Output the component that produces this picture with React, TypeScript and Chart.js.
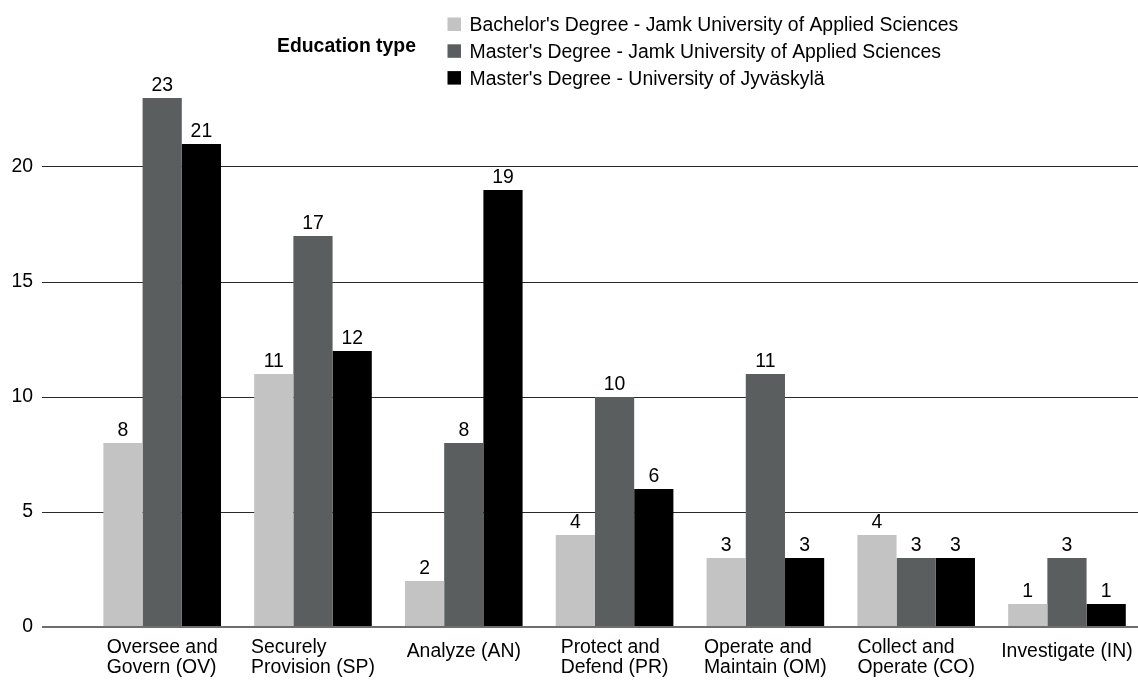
import { useEffect, useRef } from "react";
import { Chart, registerables } from "chart.js";

Chart.register(...registerables);

// Work-role categories (multi-line axis labels)
const categories: string[][] = [
  ["Oversee and", "Govern (OV)"],
  ["Securely", "Provision (SP)"],
  ["Analyze (AN)"],
  ["Protect and", "Defend (PR)"],
  ["Operate and", "Maintain (OM)"],
  ["Collect and", "Operate (CO)"],
  ["Investigate (IN)"],
];

// Counts per education type
const bachelorJamk = [8, 11, 2, 4, 3, 4, 1];
const masterJamk = [23, 17, 8, 10, 11, 3, 3];
const masterJyu = [21, 12, 19, 6, 3, 3, 1];

const seriesLabels = [
  "Bachelor's Degree - Jamk University of Applied Sciences",
  "Master's Degree - Jamk University of Applied Sciences",
  "Master's Degree - University of Jyväskylä",
];
const seriesValues = [bachelorJamk, masterJamk, masterJyu];
const seriesColors = ["#c2c3c2", "#5a5e5f", "#000000"];

const yTicks = [0, 5, 10, 15, 20];
const legendTitle = "Education type";

const FONT = "'Liberation Sans', Arial, Helvetica, sans-serif";
const FONT_SIZE = 19.4;

// Numbers printed above each bar
const valueLabels = {
  id: "valueLabels",
  afterDatasetsDraw(chart: any) {
    const ctx = chart.ctx;
    ctx.save();
    ctx.font = `${FONT_SIZE}px ${FONT}`;
    ctx.fillStyle = "#000";
    ctx.textAlign = "center";
    ctx.textBaseline = "alphabetic";
    chart.data.datasets.forEach((ds: any, d: number) => {
      const meta = chart.getDatasetMeta(d);
      meta.data.forEach((bar: any, i: number) => {
        ctx.fillText(String(ds.data[i].y), bar.x, bar.y - 7);
      });
    });
    ctx.restore();
  },
};

// Category names under the plot, left-aligned within a centred block
const categoryLabels = {
  id: "categoryLabels",
  afterDraw(chart: any) {
    const ctx = chart.ctx;
    const xs = chart.scales.x;
    const bottom = chart.chartArea.bottom;
    ctx.save();
    ctx.font = `${FONT_SIZE}px ${FONT}`;
    ctx.fillStyle = "#000";
    ctx.textAlign = "left";
    ctx.textBaseline = "alphabetic";
    categories.forEach((lines, i) => {
      const cx = xs.getPixelForValue(i);
      const w = Math.max(...lines.map((l) => ctx.measureText(l).width));
      const left = cx - w / 2;
      if (lines.length === 1) {
        ctx.fillText(lines[0], left, bottom + 30);
      } else {
        lines.forEach((l, k) => ctx.fillText(l, left, bottom + 26 + k * 20));
      }
    });
    ctx.restore();
  },
};

// Legend: bold title on the left, series stacked vertically on the right
const sideLegend = {
  id: "sideLegend",
  afterDraw(chart: any) {
    const ctx = chart.ctx;
    ctx.save();
    ctx.fillStyle = "#000";
    ctx.textBaseline = "alphabetic";
    ctx.textAlign = "left";
    ctx.font = `bold ${FONT_SIZE}px ${FONT}`;
    ctx.fillText(legendTitle, 277, 51.5);
    ctx.font = `${FONT_SIZE}px ${FONT}`;
    chart.data.datasets.forEach((ds: any, d: number) => {
      const base = 31 + d * 26.8;
      ctx.fillStyle = ds.backgroundColor;
      ctx.fillRect(447.5, base - 13.5, 13.5, 13.5);
      ctx.fillStyle = "#000";
      ctx.fillText(ds.label, 469.5, base);
    });
    ctx.restore();
  },
};

export default function App() {
  const canvasRef = useRef<HTMLCanvasElement | null>(null);

  useEffect(() => {
    if (!canvasRef.current) return;
    Chart.defaults.font.family = FONT;

    const chart = new Chart(canvasRef.current, {
      type: "bar",
      data: {
        datasets: seriesValues.map((vals, d) => ({
          label: seriesLabels[d],
          data: vals.map((v, i) => ({ x: i, y: v })),
          backgroundColor: seriesColors[d],
          borderWidth: 0,
          categoryPercentage: 0.78,
          barPercentage: 1,
        })),
      },
      options: {
        responsive: false,
        animation: false,
        layout: { padding: { top: 52, bottom: 53, left: 0, right: 0 } },
        plugins: {
          legend: { display: false },
          tooltip: { enabled: false },
        },
        scales: {
          x: {
            type: "linear",
            display: false,
            offset: false,
            min: -0.797,
            max: 6.471,
            afterBuildTicks: (scale: any) => {
              scale.ticks = categories.map((_, i) => ({ value: i }));
            },
          },
          y: {
            min: 0,
            max: 25,
            afterBuildTicks: (scale: any) => {
              scale.ticks = yTicks.map((v) => ({ value: v }));
            },
            afterFit: (scale: any) => {
              scale.width = 42;
            },
            border: { display: false },
            grid: {
              drawTicks: false,
              color: (c: any) => (c.tick && c.tick.value === 0 ? "#6e6e6e" : "#2a2a2a"),
              lineWidth: (c: any) => (c.tick && c.tick.value === 0 ? 2 : 1),
            },
            ticks: {
              padding: 9,
              color: "#000",
              font: { size: FONT_SIZE, family: FONT },
            },
          },
        },
      },
      plugins: [valueLabels, categoryLabels, sideLegend],
    } as any);

    return () => chart.destroy();
  }, []);

  return (
    <div style={{ position: "fixed", left: 0, top: 0, width: 1138, height: 680, background: "#fff" }}>
      <canvas ref={canvasRef} width={1138} height={680} style={{ width: 1138, height: 680, display: "block" }} />
    </div>
  );
}
